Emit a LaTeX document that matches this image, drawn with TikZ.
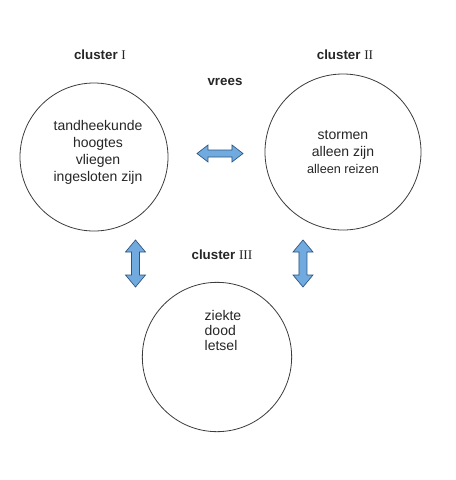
\documentclass[tikz,border=0pt]{standalone}
\usepackage{fontspec}
\setmainfont{Liberation Sans}
\newfontfamily\romfont{Liberation Serif}
\definecolor{arrfill}{RGB}{112,170,222}
\definecolor{arrline}{RGB}{45,85,130}
\definecolor{circline}{RGB}{60,60,60}
\tikzset{
  clu/.style={circle, draw=circline, line width=0.6pt, inner sep=0pt},
  ctext/.style={align=center, font=\fontsize{10.5}{12.75}\selectfont, text=black!85},
  ttl/.style={font=\fontsize{10}{12}\selectfont\bfseries, text=black!85},
  arrowsty/.style={fill=arrfill, draw=arrline, line width=0.5pt, line join=miter},
  vdarrow/.pic={\path[arrowsty] (0,-23.5) -- (10,-11.5) -- (4,-11.5) -- (4,11.5) -- (10,11.5) -- (0,23.5) -- (-10,11.5) -- (-4,11.5) -- (-4,-11.5) -- (-10,-11.5) -- cycle;},
  hdarrow/.pic={\path[arrowsty] (-23,0) -- (-12,-8.5) -- (-12,-3.5) -- (12,-3.5) -- (12,-8.5) -- (23,0) -- (12,8.5) -- (12,3.5) -- (-12,3.5) -- (-12,8.5) -- cycle;}
}
\begin{document}
\begin{tikzpicture}[x=0.75pt,y=-0.75pt]
\useasboundingbox[fill=white] (0,0) rectangle (456,480);
% circles
\node[clu, minimum size=111pt] (c1) at (94,157) {};
\node[clu, minimum size=117pt] (c2) at (343,152) {};
\node[clu, minimum size=112pt] (c3) at (217,357) {};
% titles
\node[ttl] (t1) at (100,55) {cluster {\romfont\mdseries I}};
\node[ttl] (t2) at (345,55) {cluster {\romfont\mdseries II}};
\node[ttl] (t3) at (222,255) {cluster {\romfont\mdseries III}};
\node[ttl] (vr) at (225,82) {vrees};
% contents
\node[ctext] (x1) at (98,152) {tandheekunde\\hoogtes\\vliegen\\ingesloten zijn};
\node[ctext] (x2) at (343,152) {stormen\\alleen zijn\\{\fontsize{9.5}{12.75}\selectfont alleen reizen}};
\node[ctext, align=left, anchor=west, font=\fontsize{10.5}{11.25}\selectfont] (x3) at (200,330) {ziekte\\dood\\letsel};
% arrows
\pic at (220,153.5) {hdarrow};
\pic at (135.5,263.5) {vdarrow};
\pic at (303,263.5) {vdarrow};
\end{tikzpicture}
\end{document}
